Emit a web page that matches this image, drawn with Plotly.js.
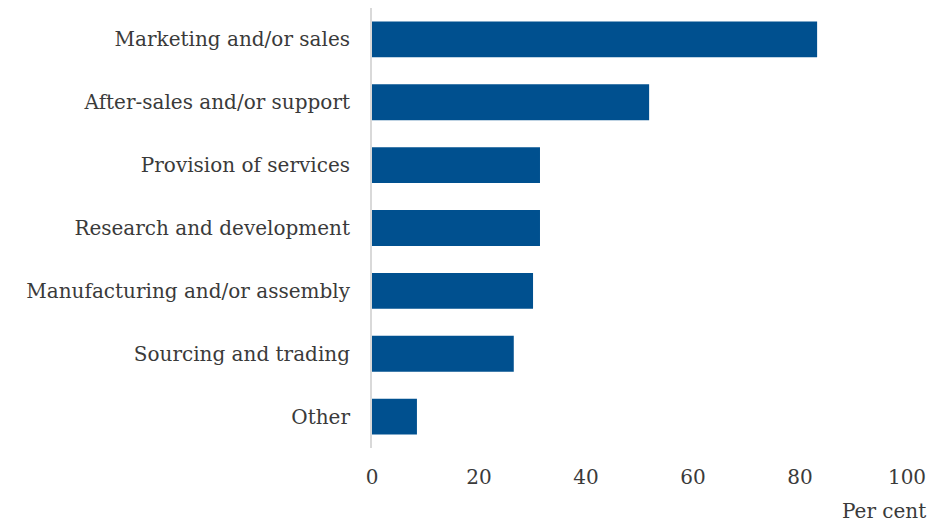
<!DOCTYPE html>
<html>
<head>
<meta charset="utf-8">
<script src="https://cdn.plot.ly/plotly-3.0.1.min.js"></script>
<style>html,body{margin:0;padding:0;background:#fff;}#chart{width:936px;height:526px;}</style>
</head>
<body>
<div id="chart"></div>
<script>
const categories = [
  "Marketing and/or sales",
  "After-sales and/or support",
  "Provision of services",
  "Research and development",
  "Manufacturing and/or assembly",
  "Sourcing and trading",
  "Other"
];
const values = [83.2, 51.8, 31.4, 31.4, 30.1, 26.5, 8.4];
const tickValues = [0, 20, 40, 60, 80, 100];
const xAxisLabel = "Per cent";

const fontFam = "'DejaVu Serif', Georgia, serif";
const trace = {
  type: 'bar',
  orientation: 'h',
  y: categories,
  x: values,
  marker: {color: '#00508F', line: {width: 0}},
  width: 0.57,
  hoverinfo: 'x+y'
};
const layout = {
  width: 936, height: 526,
  margin: {l: 372, r: 29, t: 8, b: 78},
  paper_bgcolor: '#fff', plot_bgcolor: '#fff',
  showlegend: false,
  font: {family: fontFam, size: 20, color: '#3a3a3a'},
  xaxis: {
    range: [0, 100], tickvals: tickValues, ticktext: tickValues.map(String),
    showgrid: false, zeroline: false, showline: false, ticks: '',
    tickfont: {family: fontFam, size: 20, color: '#3a3a3a'},
    ticklabelstandoff: 15
  },
  yaxis: {
    autorange: 'reversed', type: 'category',
    showgrid: false, zeroline: false, showline: true, linecolor: '#d9d9d9', linewidth: 2,
    ticks: '', ticklabelstandoff: 16,
    tickfont: {family: fontFam, size: 20, color: '#3a3a3a'}
  },
  annotations: [{
    text: xAxisLabel, xref: 'paper', yref: 'paper', x: 1.04, y: 0, xanchor: 'right', yanchor: 'top',
    yshift: -49, showarrow: false, font: {family: fontFam, size: 20, color: '#3a3a3a'}
  }]
};
Plotly.newPlot('chart', [trace], layout, {displayModeBar: false, staticPlot: true});
</script>
</body>
</html>
